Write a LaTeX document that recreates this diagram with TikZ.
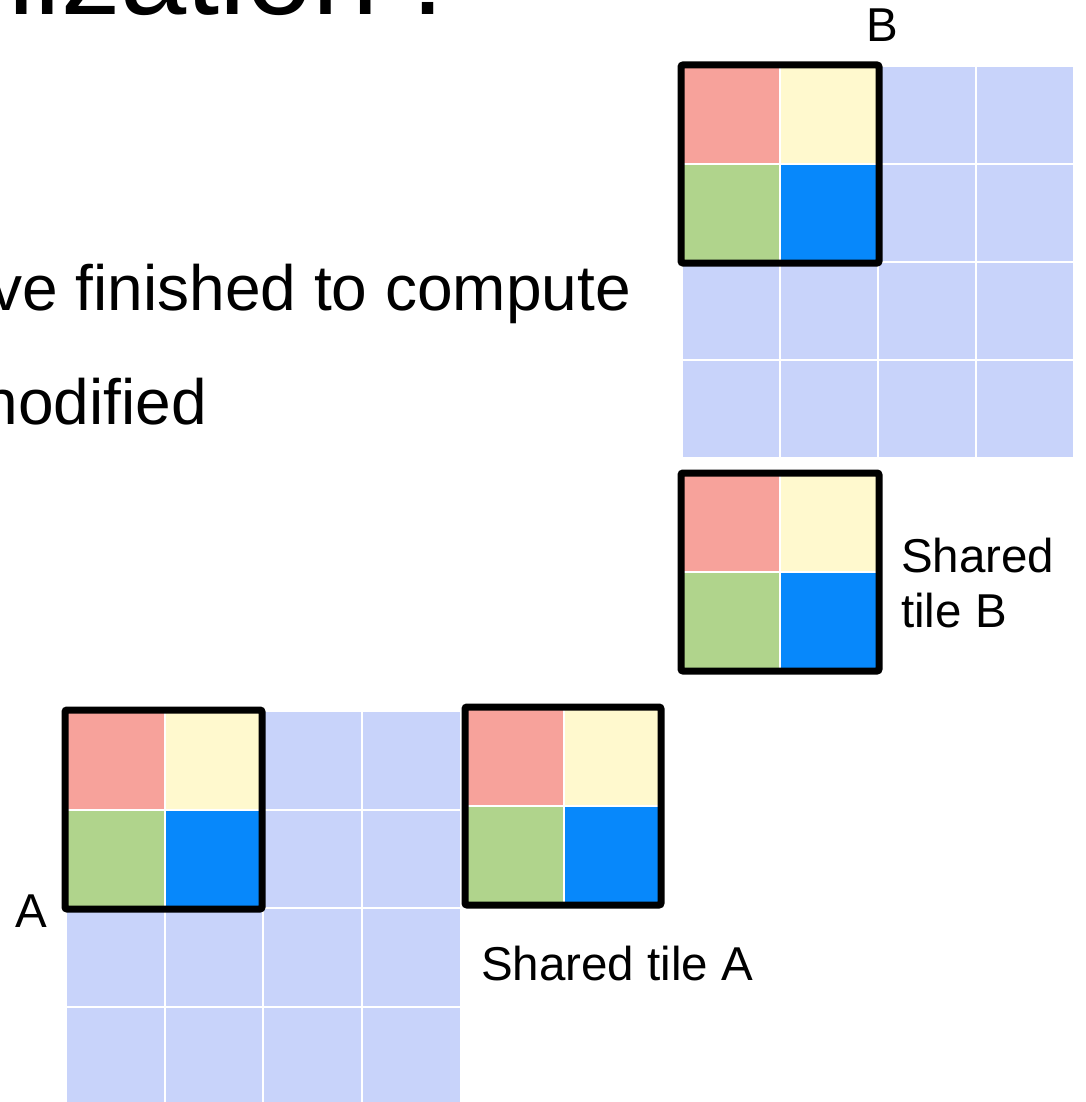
\documentclass[tikz,border=0pt]{standalone}
\usepackage{fontspec}
\setmainfont{Liberation Sans}

\definecolor{gridblue}{HTML}{C8D3FA}
\definecolor{tilered}{HTML}{F7A29B}
\definecolor{tileyellow}{HTML}{FFF9CE}
\definecolor{tilegreen}{HTML}{B0D48C}
\definecolor{tileblue}{HTML}{0788FB}

\tikzset{
  gridcell/.style={fill=gridblue},
  tileframe/.style={draw=black, line width=7pt, rounded corners=2pt},
  lbl/.style={inner sep=0pt, font=\fontsize{47.5}{55}\selectfont},
  slidetext/.style={inner sep=0pt, anchor=base east, font=\fontsize{64}{76}\selectfont},
}

% one 2x2 coloured tile, top-left corner #1,#2, pitch #3
\newcommand{\colourtile}[3]{%
  \fill[tilered]    (#1,#2)       rectangle ++(#3-2,#3-2);
  \fill[tileyellow] (#1+#3,#2)    rectangle ++(#3-2,#3-2);
  \fill[tilegreen]  (#1,#2+#3)    rectangle ++(#3-2,#3-2);
  \fill[tileblue]   (#1+#3,#2+#3) rectangle ++(#3-2,#3-2);
}

\begin{document}
\begin{tikzpicture}[x=1pt,y=-1pt]
\useasboundingbox (0,0) rectangle (1085,1102);

% slide text, cut by the page edge
\node[slidetext, font=\fontsize{119}{130}\selectfont] (title) at (445,15) {nization :};
\node[slidetext] (line1) at (631,310) {ve finished to compute};
\node[slidetext] (line2) at (207,424) {nodified};

% matrix B
\foreach \i in {0,...,3}
  \foreach \j in {0,...,3}
    \fill[gridcell] (683+98*\i,67+98*\j) rectangle ++(96,96);
\colourtile{683}{67}{98}
\draw[tileframe] (681,65) rectangle (879,263);
\node[lbl, anchor=base] (labB) at (882,42) {B};

% shared tile B
\colourtile{683}{475}{98}
\draw[tileframe] (681,473) rectangle (879,671);
\node[lbl, anchor=base west, align=left] (sharedB) at (901,627) {Shared\\tile B};

% matrix A
\foreach \i in {0,...,3}
  \foreach \j in {0,...,3}
    \fill[gridcell] (67+98.7*\i,712+98.7*\j) rectangle ++(96.5,96.5);
\colourtile{67}{712}{98.7}
\draw[tileframe] (65,710) rectangle (262,909);
\node[lbl, anchor=base] (labA) at (31,927) {A};

% shared tile A
\colourtile{468}{710}{97}
\draw[tileframe] (465,707) rectangle (661,905);
\node[lbl, anchor=base west] (sharedA) at (481,980) {Shared tile A};
\end{tikzpicture}
\end{document}
